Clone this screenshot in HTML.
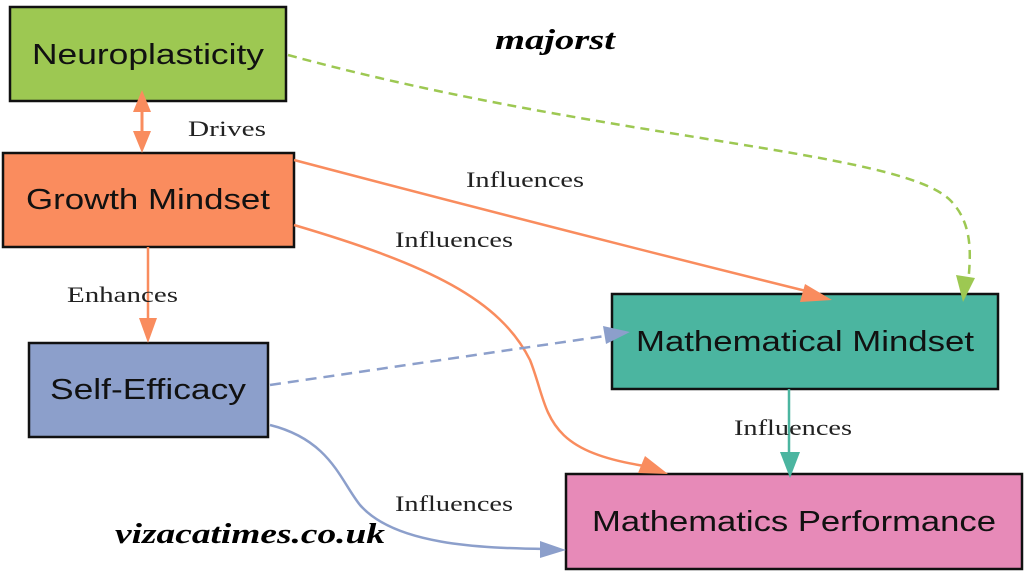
<!DOCTYPE html>
<html><head><style>
body{margin:0;width:1024px;height:576px;background:#fff;overflow:hidden}
svg{display:block}
.n{font-family:"Liberation Sans",sans-serif;font-size:29px;fill:#111;text-anchor:middle}
.l{font-family:"Liberation Serif",serif;font-size:22px;fill:#222}
.w{font-family:"Liberation Serif",serif;font-size:28px;font-weight:bold;font-style:italic;fill:#000}
</style></head><body>
<svg width="1024" height="576" viewBox="0 0 1024 576">
<g stroke="#111" stroke-width="2.5">
<rect x="10" y="7" width="276" height="94" fill="#9dc852"/>
<rect x="3" y="153" width="291" height="94" fill="#fa8c5e"/>
<rect x="29" y="343" width="239" height="94" fill="#8c9fcb"/>
<rect x="612" y="294" width="386" height="95" fill="#4bb5a0"/>
<rect x="566" y="474" width="456" height="95" fill="#e78ab8"/>
</g>
<text class="n" x="148" y="64" textLength="232" lengthAdjust="spacingAndGlyphs">Neuroplasticity</text>
<text class="n" x="148" y="209" textLength="244" lengthAdjust="spacingAndGlyphs">Growth Mindset</text>
<text class="n" x="148" y="399" textLength="196" lengthAdjust="spacingAndGlyphs">Self-Efficacy</text>
<text class="n" x="805" y="351" textLength="338" lengthAdjust="spacingAndGlyphs">Mathematical Mindset</text>
<text class="n" x="794" y="531" textLength="404" lengthAdjust="spacingAndGlyphs">Mathematics Performance</text>
<line x1="142" y1="110" x2="142" y2="143" stroke="#f98c5e" stroke-width="3"/>
<path d="M142,90 L133,112 L151,112z M142,153 L133,131 L151,131z" fill="#f98c5e"/>
<line x1="148" y1="247" x2="148" y2="322" stroke="#f98c5e" stroke-width="2.5"/>
<path d="M148,343 L139,318 L157,318z" fill="#f98c5e"/>
<path d="M294,160 Q560,230 810,292" stroke="#f98c5e" stroke-width="2.5" fill="none"/>
<path d="M832,300 L805,284 L800,302z" fill="#f98c5e"/>
<path d="M294,225 C430,265 500,300 530,360 C550,410 540,450 645,466" stroke="#f98c5e" stroke-width="2.5" fill="none"/>
<path d="M668,474 L645,456 L638,473z" fill="#f98c5e"/>
<path d="M288,55 C600,140 900,150 950,200 C975,225 970,260 968,285" stroke="#9dc852" stroke-width="2.5" fill="none" stroke-dasharray="9,6"/>
<path d="M963,302 L956,275 L975,278z" fill="#9dc852"/>
<path d="M270,385 L605,336" stroke="#8c9fcb" stroke-width="2.5" fill="none" stroke-dasharray="11,7"/>
<path d="M630,332 L603,326 L606,344z" fill="#8c9fcb"/>
<path d="M270,425 C330,440 340,480 360,505 C395,545 480,548 545,549" stroke="#8c9fcb" stroke-width="2.5" fill="none"/>
<path d="M566,550 L540,541 L540,558z" fill="#8c9fcb"/>
<line x1="789" y1="389" x2="789" y2="455" stroke="#4bb5a0" stroke-width="2.5"/>
<path d="M790,478 L780,452 L800,452z" fill="#4bb5a0"/>
<text class="l" x="188" y="136" textLength="78" lengthAdjust="spacingAndGlyphs">Drives</text>
<text class="l" x="466" y="187" textLength="118" lengthAdjust="spacingAndGlyphs">Influences</text>
<text class="l" x="395" y="247" textLength="118" lengthAdjust="spacingAndGlyphs">Influences</text>
<text class="l" x="67" y="302" textLength="111" lengthAdjust="spacingAndGlyphs">Enhances</text>
<text class="l" x="734" y="435" textLength="118" lengthAdjust="spacingAndGlyphs">Influences</text>
<text class="l" x="395" y="511" textLength="118" lengthAdjust="spacingAndGlyphs">Influences</text>
<text class="w" x="495" y="49" textLength="120" lengthAdjust="spacingAndGlyphs">majorst</text>
<text class="w" x="115" y="543" textLength="270" lengthAdjust="spacingAndGlyphs">vizacatimes.co.uk</text>
</svg>
</body></html>
